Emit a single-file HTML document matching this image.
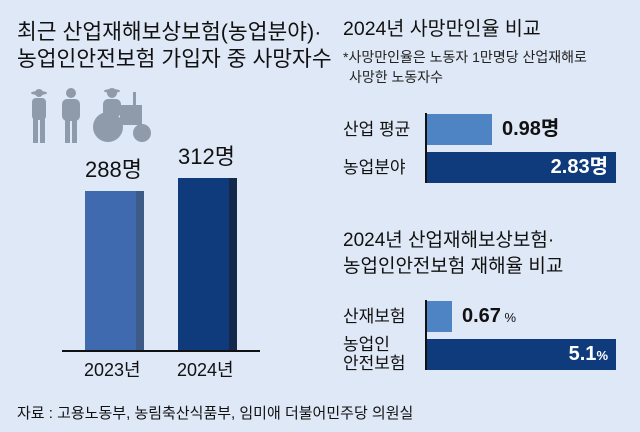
<!DOCTYPE html>
<html><head><meta charset="utf-8"><style>
body{margin:0;}
#c{position:relative;width:640px;height:432px;background:#dfe8f6;font-family:"Liberation Sans","Noto Sans CJK KR",sans-serif;color:#111;overflow:hidden}
.t{position:absolute;white-space:nowrap;line-height:1}
.b{position:absolute}
</style></head><body><div id="c">
<div class="t" style="left:17px;top:22px;font-size:21.5px">최근 산업재해보상보험(농업분야)·</div>
<div class="t" style="left:17px;top:49px;font-size:21.5px">농업인안전보험 가입자 중 사망자수</div>
<svg class="b" style="left:25px;top:85px" width="130" height="60" viewBox="0 0 130 60" fill="#8f9aab">
<ellipse cx="14" cy="8" rx="8" ry="2"/><circle cx="14" cy="8" r="4"/><rect x="7" y="13" width="14" height="22" rx="4"/><rect x="8" y="33" width="5" height="25"/><rect x="15" y="33" width="5" height="25"/>
<circle cx="46" cy="8" r="5"/><rect x="37" y="14" width="18" height="22" rx="5"/><rect x="40" y="34" width="5" height="24"/><rect x="47" y="34" width="5" height="24"/>
<circle cx="87" cy="8" r="5"/><ellipse cx="87" cy="6" rx="8" ry="2"/><rect x="78" y="14" width="18" height="18" rx="5"/><rect x="95" y="20" width="22" height="20"/><rect x="108" y="7" width="3" height="14"/>
<circle cx="83" cy="42" r="15"/><circle cx="117" cy="48" r="9"/>
</svg>
<div class="b" style="left:62px;top:350px;width:198px;height:2px;background:#111"></div>
<div class="b" style="left:86px;top:191px;width:58px;height:159px;background:#3e5a86"></div>
<div class="b" style="left:85px;top:191px;width:51px;height:159px;background:#3f6ab0"></div>
<div class="b" style="left:179px;top:178px;width:58px;height:172px;background:#13284a"></div>
<div class="b" style="left:178px;top:178px;width:51px;height:172px;background:#0f3b7c"></div>
<div class="t" style="left:85px;top:159px;font-size:22px">288명</div>
<div class="t" style="left:178px;top:146px;font-size:22px">312명</div>
<div class="t" style="left:84px;top:361px;font-size:18px">2023년</div>
<div class="t" style="left:177px;top:361px;font-size:18px">2024년</div>
<div class="t" style="left:17px;top:406px;font-size:15px">자료 : 고용노동부, 농림축산식품부, 임미애 더불어민주당 의원실</div>

<div class="t" style="left:343px;top:20px;font-size:19.5px">2024년 사망만인율 비교</div>
<div class="t" style="left:343px;top:50px;font-size:14px;color:#222">*사망만인율은 노동자 1만명당 산업재해로</div>
<div class="t" style="left:349px;top:70px;font-size:14px;color:#222">사망한 노동자수</div>
<div class="b" style="left:425px;top:113px;width:2px;height:70px;background:#111"></div>
<div class="b" style="left:427px;top:114px;width:65px;height:31px;background:#4f84c4"></div>
<div class="b" style="left:427px;top:152px;width:189px;height:31px;background:#0f3b7c"></div>
<div class="t" style="left:343px;top:121px;font-size:17px">산업 평균</div>
<div class="t" style="left:343px;top:159px;font-size:17px">농업분야</div>
<div class="t" style="left:502px;top:119px;font-size:20px;font-weight:bold">0.98명</div>
<div class="t" style="left:530px;top:157px;font-size:20px;font-weight:bold;color:#fff;width:78px;text-align:right">2.83명</div>

<div class="t" style="left:343px;top:231px;font-size:19px">2024년 산업재해보상보험·</div>
<div class="t" style="left:343px;top:257px;font-size:19px">농업인안전보험 재해율 비교</div>
<div class="b" style="left:425px;top:300px;width:2px;height:70px;background:#111"></div>
<div class="b" style="left:427px;top:301px;width:25px;height:31px;background:#4f84c4"></div>
<div class="b" style="left:427px;top:339px;width:189px;height:31px;background:#0f3b7c"></div>
<div class="t" style="left:343px;top:308px;font-size:17px">산재보험</div>
<div class="t" style="left:343px;top:336px;font-size:17px">농업인</div>
<div class="t" style="left:343px;top:355px;font-size:17px">안전보험</div>
<div class="t" style="left:462px;top:306px;font-size:20px;font-weight:bold">0.67<span style="font-size:13px;font-weight:normal"> %</span></div>
<div class="t" style="left:540px;top:344px;font-size:20px;font-weight:bold;color:#fff;width:68px;text-align:right">5.1<span style="font-size:13px">%</span></div>
</div></body></html>
